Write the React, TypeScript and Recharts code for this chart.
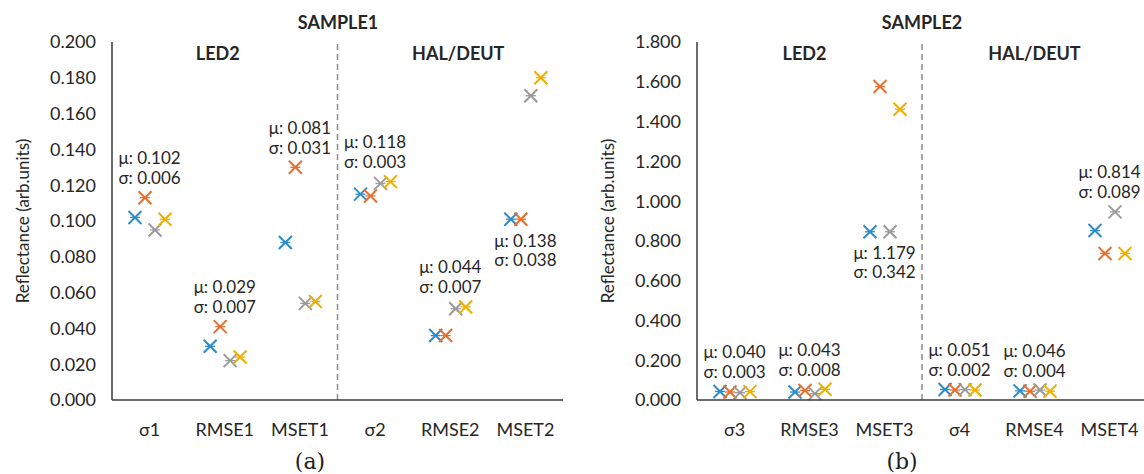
import React from 'react';
import { BarChart, Bar, XAxis, YAxis, ReferenceLine, ReferenceDot } from 'recharts';

// ---------- Data: SAMPLE1 ----------
const categoriesA = ['σ1', 'RMSE1', 'MSET1', 'σ2', 'RMSE2', 'MSET2'];
const blueA = [0.102, 0.030, 0.088, 0.115, 0.036, 0.101];
const orangeA = [0.113, 0.041, 0.130, 0.114, 0.036, 0.101];
const grayA = [0.095, 0.022, 0.054, 0.121, 0.051, 0.170];
const yellowA = [0.101, 0.024, 0.055, 0.122, 0.052, 0.180];
const muA = ['0.102', '0.029', '0.081', '0.118', '0.044', '0.138'];
const sigmaA = ['0.006', '0.007', '0.031', '0.003', '0.007', '0.038'];
const placementA = ['above', 'above', 'above', 'above', 'above', 'below'];
const yTicksA = [0, 0.02, 0.04, 0.06, 0.08, 0.1, 0.12, 0.14, 0.16, 0.18, 0.2];

// ---------- Data: SAMPLE2 ----------
const categoriesB = ['σ3', 'RMSE3', 'MSET3', 'σ4', 'RMSE4', 'MSET4'];
const blueB = [0.043, 0.040, 0.846, 0.053, 0.046, 0.852];
const orangeB = [0.040, 0.048, 1.576, 0.050, 0.044, 0.737];
const grayB = [0.037, 0.032, 0.846, 0.052, 0.050, 0.946];
const yellowB = [0.042, 0.054, 1.462, 0.050, 0.044, 0.737];
const muB = ['0.040', '0.043', '1.179', '0.051', '0.046', '0.814'];
const sigmaB = ['0.003', '0.008', '0.342', '0.002', '0.004', '0.089'];
const placementB = ['above', 'above', 'below', 'above', 'above', 'above'];
const yTicksB = [0, 0.2, 0.4, 0.6, 0.8, 1.0, 1.2, 1.4, 1.6, 1.8];

const sectionTitles = ['LED2', 'HAL/DEUT'];

const COLORS = { blue: '#2B8CC8', orange: '#E5702F', gray: '#9A9A9A', yellow: '#F0AE00' };
const FONT = 'Lato, "Open Sans", sans-serif';
const TEXT = '#262626';
const AXIS = '#3a3a3a';

const Cross = ({ cx, cy, color }: { cx: number; cy: number; color: string }) => {
  const h = 6.5;
  return (
    <g stroke={color} fill="none">
      <line x1={cx - h} y1={cy - h} x2={cx + h} y2={cy + h} strokeWidth={2} />
      <line x1={cx - h} y1={cy + h} x2={cx + h} y2={cy - h} strokeWidth={2} />
      <line x1={cx - 5} y1={cy} x2={cx + 5} y2={cy} strokeWidth={1.3} />
    </g>
  );
};

const markerShape = (color: string) => (props: any) => {
  const { x, y, width } = props;
  if (x == null || y == null) return <g />;
  return <Cross cx={x + width / 2} cy={y} color={color} />;
};

type PanelProps = {
  categories: string[];
  blue: number[];
  orange: number[];
  gray: number[];
  yellow: number[];
  mu: string[];
  sigma: string[];
  placement: string[];
  yTicks: number[];
  yMax: number;
  width: number;
  titleDx: number[];
};

const Panel = (p: PanelProps) => {
  const data = p.categories.map((c, i) => ({
    cat: c,
    blue: p.blue[i],
    orange: p.orange[i],
    gray: p.gray[i],
    yellow: p.yellow[i],
  }));
  return (
    <BarChart
      width={p.width}
      height={474}
      data={data}
      margin={{ top: 42, right: 0, bottom: 34, left: 0 }}
      barGap={0}
    >
      <XAxis
        dataKey="cat"
        height={40}
        tickLine={false}
        tickSize={0}
        tickMargin={23}
        axisLine={{ stroke: AXIS, strokeWidth: 1.5 }}
        tick={{ fill: TEXT, fontSize: 18, fontFamily: FONT }}
        interval={0}
      />
      <YAxis
        type="number"
        domain={[0, p.yMax]}
        ticks={p.yTicks}
        interval={0}
        width={112}
        tickLine={false}
        tickSize={0}
        tickMargin={16}
        axisLine={{ stroke: AXIS, strokeWidth: 1.5 }}
        tick={{ fill: TEXT, fontSize: 18, fontFamily: FONT }}
        tickFormatter={(v: number) => v.toFixed(3)}
      />
      <ReferenceLine
        x={p.categories[2]}
        position="end"
        stroke="#8a8a8a"
        strokeWidth={1.5}
        strokeDasharray="6 4"
      />
      {[1, 4].map((ci, k) => (
        <ReferenceDot
          key={'sec' + k}
          x={p.categories[ci]}
          y={p.yMax}
          r={0}
          ifOverflow="visible"
          shape={(s: any) => (
            <text
              x={s.cx + p.titleDx[k]}
              y={s.cy + 11}
              textAnchor="middle"
              dominantBaseline="central"
              fontFamily={FONT}
              fontWeight={700}
              fontSize={18}
              fill={TEXT}
            >
              {sectionTitles[k]}
            </text>
          )}
        />
      ))}
      {p.categories.map((c, i) => {
        const vals = [p.blue[i], p.orange[i], p.gray[i], p.yellow[i]];
        const above = p.placement[i] === 'above';
        const anchor = above ? Math.max(...vals) : Math.min(...vals);
        return (
          <ReferenceDot
            key={'ann' + i}
            x={c}
            y={anchor}
            r={0}
            ifOverflow="visible"
            shape={(s: any) => {
              const muY = above ? s.cy - 40 : s.cy + 21;
              const sgY = above ? s.cy - 20 : s.cy + 40;
              return (
                <g fontFamily={FONT} fontSize={17} fill={TEXT} textAnchor="middle">
                  <text x={s.cx} y={muY} dominantBaseline="central">{'μ: ' + p.mu[i]}</text>
                  <text x={s.cx} y={sgY} dominantBaseline="central">{'σ: ' + p.sigma[i]}</text>
                </g>
              );
            }}
          />
        );
      })}
      <Bar dataKey="blue" barSize={10} isAnimationActive={false} shape={markerShape(COLORS.blue)} />
      <Bar dataKey="orange" barSize={10} isAnimationActive={false} shape={markerShape(COLORS.orange)} />
      <Bar dataKey="gray" barSize={10} isAnimationActive={false} shape={markerShape(COLORS.gray)} />
      <Bar dataKey="yellow" barSize={10} isAnimationActive={false} shape={markerShape(COLORS.yellow)} />
    </BarChart>
  );
};

const centered = (left: number, top: number, extra: React.CSSProperties = {}): React.CSSProperties => ({
  position: 'absolute',
  left,
  top,
  transform: 'translate(-50%, -50%)',
  whiteSpace: 'nowrap',
  color: TEXT,
  fontFamily: FONT,
  ...extra,
});

export default function App() {
  return (
    <div style={{ position: 'relative', width: 1144, height: 474, overflow: 'hidden', background: '#fff' }}>
      <style>{'body{margin:0;background:#fff;}'}</style>
      <div style={{ position: 'absolute', left: 0, top: 0 }}>
        <Panel
          categories={categoriesA}
          blue={blueA}
          orange={orangeA}
          gray={grayA}
          yellow={yellowA}
          mu={muA}
          sigma={sigmaA}
          placement={placementA}
          yTicks={yTicksA}
          yMax={0.2}
          width={563}
          titleDx={[-7, 8]}
        />
      </div>
      <div style={{ position: 'absolute', left: 585, top: 0 }}>
        <Panel
          categories={categoriesB}
          blue={blueB}
          orange={orangeB}
          gray={grayB}
          yellow={yellowB}
          mu={muB}
          sigma={sigmaB}
          placement={placementB}
          yTicks={yTicksB}
          yMax={1.8}
          width={562}
          titleDx={[-5, 0]}
        />
      </div>
      <div style={centered(338, 22, { fontWeight: 700, fontSize: 18 })}>SAMPLE1</div>
      <div style={centered(922, 22, { fontWeight: 700, fontSize: 18 })}>SAMPLE2</div>
      <div style={centered(22, 221, { fontSize: 17, transform: 'translate(-50%, -50%) rotate(-90deg)' })}>
        Reflectance (arb.units)
      </div>
      <div style={centered(607, 221, { fontSize: 17, transform: 'translate(-50%, -50%) rotate(-90deg)' })}>
        Reflectance (arb.units)
      </div>
      <div style={centered(310, 461, { fontSize: 22, fontFamily: '"DejaVu Serif", "Liberation Serif", serif', color: '#222' })}>(a)</div>
      <div style={centered(902, 461, { fontSize: 22, fontFamily: '"DejaVu Serif", "Liberation Serif", serif', color: '#222' })}>(b)</div>
    </div>
  );
}
